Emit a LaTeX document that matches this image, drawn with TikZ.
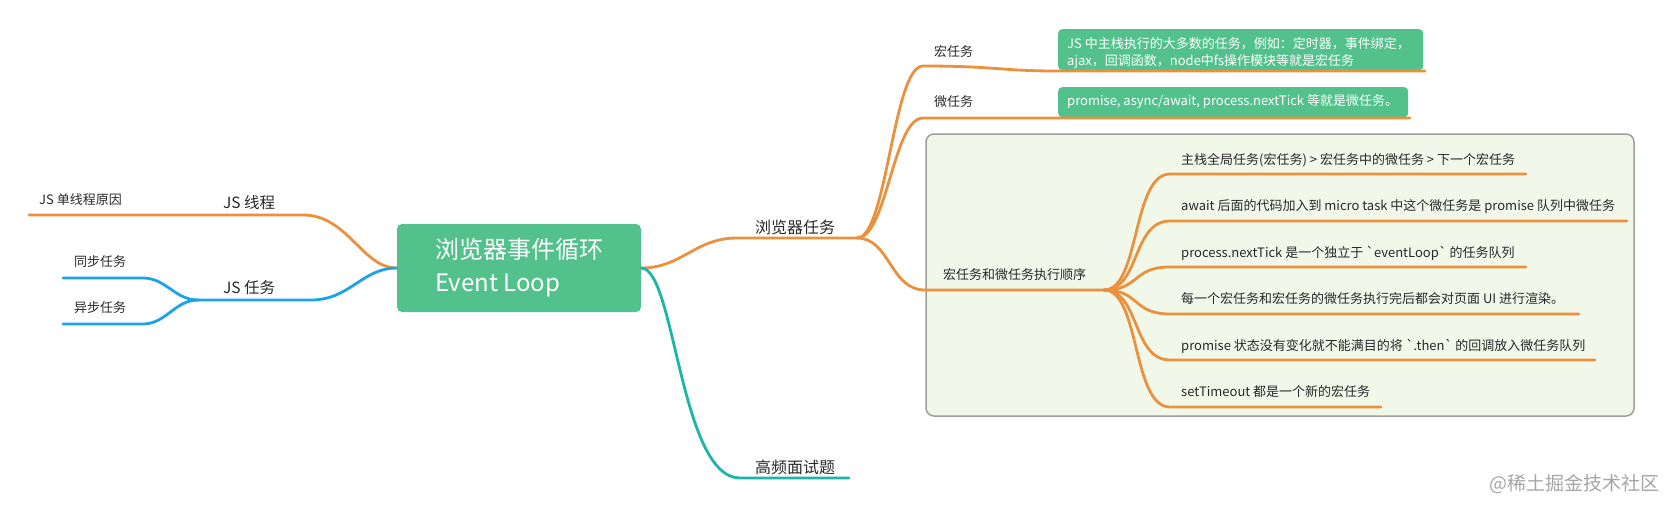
\documentclass[tikz,border=0pt]{standalone}
\usepackage{fontspec}
\setmainfont{Noto Sans CJK SC}
\setmonofont{Noto Sans CJK SC}
\definecolor{orangeL}{RGB}{235,145,62}
\definecolor{blueL}{RGB}{26,163,232}
\definecolor{tealL}{RGB}{27,182,168}
\definecolor{greenB}{RGB}{82,193,140}
\definecolor{frameF}{RGB}{241,248,234}
\definecolor{frameD}{RGB}{155,160,155}
\definecolor{txt}{RGB}{40,40,40}
\definecolor{wm}{RGB}{165,165,165}
\begin{document}
\begin{tikzpicture}[x=1pt,y=-1pt,
  br/.style={line width=2.8pt, line cap=round},
  obr/.style={br, draw=orangeL},
  bbr/.style={br, draw=blueL},
  tbr/.style={br, draw=tealL},
  lbl/.style={anchor=west, inner sep=0pt, text=txt, font=\fontsize{13}{15}\selectfont},
  lblbig/.style={anchor=west, inner sep=0pt, text=txt, font=\fontsize{16}{18}\selectfont},
  gbox/.style={fill=greenB, rounded corners=4pt, inner sep=0pt},
  gtxt/.style={anchor=west, inner sep=0pt, text=white, align=left, font=\fontsize{13}{17}\selectfont},
  rootbox/.style={fill=greenB, rounded corners=5pt, text=white, align=left, minimum width=244pt, minimum height=88pt, inner sep=0pt, font=\fontsize{24}{33}\selectfont},
  framebox/.style={fill=frameF, draw=frameD, line width=1.5pt, rounded corners=8pt, inner sep=0pt}
]
\useasboundingbox (0,0) rectangle (1665,509);

% frame behind the order items
\node[framebox, minimum width=708pt, minimum height=282pt] (frame) at (1280,275) {};

% root
\node[rootbox] (root) at (519,268) {浏览器事件循环\\Event Loop};

% green boxes
\node[gbox, minimum width=365pt, minimum height=41pt, anchor=north west] (mbox) at (1058,29) {};
\node[gtxt] (mtxt) at (1067,53) {JS 中主栈执行的大多数的任务，例如：定时器，事件绑定，\\ajax，回调函数，node中fs操作模块等就是宏任务};
\node[gbox, minimum width=350pt, minimum height=30pt, anchor=north west] (ubox) at (1058,87) {};
\node[gtxt] (utxt) at (1067,102) {promise, async/await, process.nextTick 等就是微任务。};

% junction coordinates
\coordinate (bj) at (857,238);
\coordinate (ij) at (1104,290);
\coordinate (tj) at (198,300);

% left branches
\draw[obr] (root.west) .. controls (362,268) and (348,215) .. (303,215) -- (29,215);
\draw[bbr] (root.west) .. controls (362,268) and (350,300) .. (311,300) -- (tj);
\draw[bbr] (tj) .. controls (175,300) and (166,278) .. (143,278) -- (63,278);
\draw[bbr] (tj) .. controls (175,300) and (166,324) .. (143,324) -- (63,324);

% right branches
\draw[obr] (root.east) .. controls (682,268) and (695,238) .. (737,238) -- (bj);
\draw[tbr] (root.east) .. controls (675,268) and (680,478) .. (740,478) -- (849,478);

\draw[obr] (bj) .. controls (887,238) and (893,66) .. (923,66) .. controls (995,66) and (1000,71) .. (1058,71) -- (1425,71);
\draw[obr] (bj) .. controls (887,238) and (893,118) .. (923,118) -- (1410,118);
\draw[obr] (bj) .. controls (890,238) and (890,290) .. (925,290) -- (ij);

\draw[obr] (ij) .. controls (1140,290) and (1132,174) .. (1170,174) -- (1526,174);
\draw[obr] (ij) .. controls (1140,290) and (1132,221) .. (1170,221) -- (1627,221);
\draw[obr] (ij) .. controls (1140,290) and (1132,267) .. (1170,267) -- (1526,267);
\draw[obr] (ij) .. controls (1140,290) and (1132,314) .. (1170,314) -- (1579,314);
\draw[obr] (ij) .. controls (1140,290) and (1132,360) .. (1170,360) -- (1595,360);
\draw[obr] (ij) .. controls (1140,290) and (1132,407) .. (1170,407) -- (1381,407);

% labels
\node[lbl] (jsreason) at (39,200) {JS 单线程原因};
\node[lblbig, font=\fontsize{15.5}{18}\selectfont] (jsthread) at (223,203) {JS 线程};
\node[lblbig, font=\fontsize{15.5}{18}\selectfont] (jstask) at (223,288) {JS 任务};
\node[lbl] (sync) at (74,262) {同步任务};
\node[lbl] (async) at (74,308) {异步任务};
\node[lblbig] (browser) at (755,227) {浏览器任务};
\node[lblbig] (high) at (755,467) {高频面试题};
\node[lbl] (macro) at (934,52) {宏任务};
\node[lbl] (micro) at (934,102) {微任务};
\node[lbl] (order) at (943,275) {宏任务和微任务执行顺序};
\node[lbl] (i1) at (1181,160) {主栈全局任务(宏任务) > 宏任务中的微任务 > 下一个宏任务};
\node[lbl] (i2) at (1181,206) {await 后面的代码加入到 micro task 中这个微任务是 promise 队列中微任务};
\node[lbl, font=\fontsize{13}{15}\ttfamily] (i3) at (1181,253) {process.nextTick 是一个独立于 `eventLoop` 的任务队列};
\node[lbl] (i4) at (1181,299) {每一个宏任务和宏任务的微任务执行完后都会对页面 UI 进行渲染。};
\node[lbl, font=\fontsize{13}{15}\ttfamily] (i5) at (1181,346) {promise 状态没有变化就不能满目的将 `.then` 的回调放入微任务队列};
\node[lbl] (i6) at (1181,392) {setTimeout 都是一个新的宏任务};

% watermark
\node[anchor=west, inner sep=0pt, text=wm, font=\fontsize{19}{21}\selectfont] (wmk) at (1489,484) {@稀土掘金技术社区};
\end{tikzpicture}
\end{document}
